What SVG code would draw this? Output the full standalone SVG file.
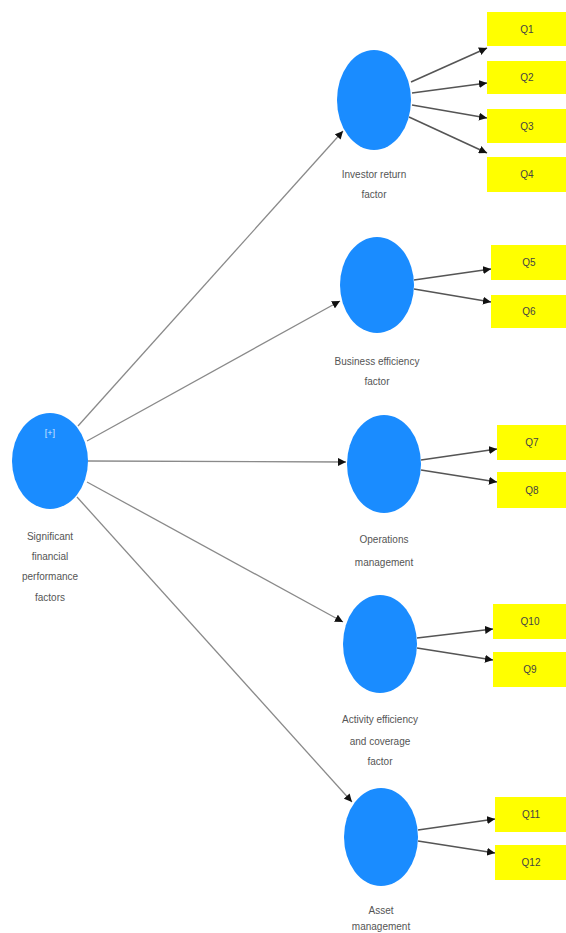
<svg xmlns="http://www.w3.org/2000/svg" width="566" height="933" viewBox="0 0 566 933">
<defs>
<style>
.lv{fill:#1a8cff;}
.ind{fill:#ffff00;}
.lbl{font-family:"Liberation Sans",Arial,sans-serif;font-size:10px;fill:#555;text-anchor:middle;}
.q{font-family:"Liberation Sans",Arial,sans-serif;font-size:10px;fill:#444;text-anchor:middle;}
.pl{stroke:#8a8a8a;stroke-width:1.3;fill:none;}
.ol{stroke:#555;stroke-width:1.6;fill:none;}
</style>
<marker id="ah" viewBox="0 0 10 10" refX="10" refY="5" markerWidth="8" markerHeight="8" orient="auto" markerUnits="userSpaceOnUse">
<path d="M0,0 L10,5 L0,10 z" fill="#111"/>
</marker>
</defs>
<rect width="566" height="933" fill="#fff"/>
<g id="connectors">
<line class="pl" x1="78" y1="426" x2="343" y2="131" marker-end="url(#ah)"/>
<line class="pl" x1="87" y1="441" x2="340" y2="301" marker-end="url(#ah)"/>
<line class="pl" x1="88" y1="461" x2="346" y2="462" marker-end="url(#ah)"/>
<line class="pl" x1="87" y1="482" x2="343" y2="622" marker-end="url(#ah)"/>
<line class="pl" x1="77" y1="497" x2="352" y2="802" marker-end="url(#ah)"/>
<line class="ol" x1="411" y1="82" x2="487" y2="48" marker-end="url(#ah)"/>
<line class="ol" x1="412" y1="93" x2="487" y2="83" marker-end="url(#ah)"/>
<line class="ol" x1="412" y1="105" x2="487" y2="118" marker-end="url(#ah)"/>
<line class="ol" x1="409" y1="117" x2="487" y2="153" marker-end="url(#ah)"/>
<line class="ol" x1="414" y1="280" x2="491" y2="269" marker-end="url(#ah)"/>
<line class="ol" x1="414" y1="289" x2="491" y2="302" marker-end="url(#ah)"/>
<line class="ol" x1="421" y1="460" x2="497" y2="449" marker-end="url(#ah)"/>
<line class="ol" x1="421" y1="470" x2="497" y2="482" marker-end="url(#ah)"/>
<line class="ol" x1="417" y1="638" x2="493" y2="629" marker-end="url(#ah)"/>
<line class="ol" x1="417" y1="648" x2="493" y2="660" marker-end="url(#ah)"/>
<line class="ol" x1="418" y1="830" x2="495" y2="819" marker-end="url(#ah)"/>
<line class="ol" x1="418" y1="841" x2="495" y2="853" marker-end="url(#ah)"/>
</g>
<g id="sfpf">
<ellipse class="lv" cx="50" cy="461" rx="38" ry="48"/>
<text x="50" y="436" font-family="Liberation Sans,Arial,sans-serif" font-size="9" fill="#cfe6ff" text-anchor="middle">[+]</text>
<text class="lbl" x="50" y="540">Significant</text>
<text class="lbl" x="50" y="560">financial</text>
<text class="lbl" x="50" y="580">performance</text>
<text class="lbl" x="50" y="601">factors</text>
</g>
<g id="investor">
<ellipse class="lv" cx="374" cy="100" rx="37" ry="50"/>
<text class="lbl" x="374" y="178">Investor return</text>
<text class="lbl" x="374" y="198">factor</text>
</g>
<g id="business">
<ellipse class="lv" cx="377" cy="285" rx="37" ry="48"/>
<text class="lbl" x="377" y="365">Business efficiency</text>
<text class="lbl" x="377" y="385">factor</text>
</g>
<g id="operations">
<ellipse class="lv" cx="384" cy="464" rx="37" ry="49"/>
<text class="lbl" x="384" y="543">Operations</text>
<text class="lbl" x="384" y="566">management</text>
</g>
<g id="activity">
<ellipse class="lv" cx="380" cy="644" rx="37" ry="49"/>
<text class="lbl" x="380" y="723">Activity efficiency</text>
<text class="lbl" x="380" y="745">and coverage</text>
<text class="lbl" x="380" y="765">factor</text>
</g>
<g id="asset">
<ellipse class="lv" cx="381" cy="837" rx="37" ry="49"/>
<text class="lbl" x="381" y="914">Asset</text>
<text class="lbl" x="381" y="930">management</text>
</g>
<g id="Q1"><rect class="ind" x="487" y="12" width="80" height="34"/><text class="q" x="527" y="33">Q1</text></g>
<g id="Q2"><rect class="ind" x="487" y="61" width="80" height="33"/><text class="q" x="527" y="81">Q2</text></g>
<g id="Q3"><rect class="ind" x="487" y="109" width="80" height="34"/><text class="q" x="527" y="130">Q3</text></g>
<g id="Q4"><rect class="ind" x="487" y="157" width="80" height="35"/><text class="q" x="527" y="178">Q4</text></g>
<g id="Q5"><rect class="ind" x="491" y="245" width="76" height="35"/><text class="q" x="529" y="266">Q5</text></g>
<g id="Q6"><rect class="ind" x="491" y="295" width="76" height="33"/><text class="q" x="529" y="315">Q6</text></g>
<g id="Q7"><rect class="ind" x="497" y="425" width="70" height="35"/><text class="q" x="532" y="446">Q7</text></g>
<g id="Q8"><rect class="ind" x="497" y="472" width="70" height="36"/><text class="q" x="532" y="494">Q8</text></g>
<g id="Q10"><rect class="ind" x="493" y="604" width="74" height="35"/><text class="q" x="530" y="625">Q10</text></g>
<g id="Q9"><rect class="ind" x="493" y="652" width="74" height="35"/><text class="q" x="530" y="673">Q9</text></g>
<g id="Q11"><rect class="ind" x="495" y="797" width="72" height="35"/><text class="q" x="531" y="818">Q11</text></g>
<g id="Q12"><rect class="ind" x="495" y="845" width="72" height="35"/><text class="q" x="531" y="866">Q12</text></g>
</svg>
